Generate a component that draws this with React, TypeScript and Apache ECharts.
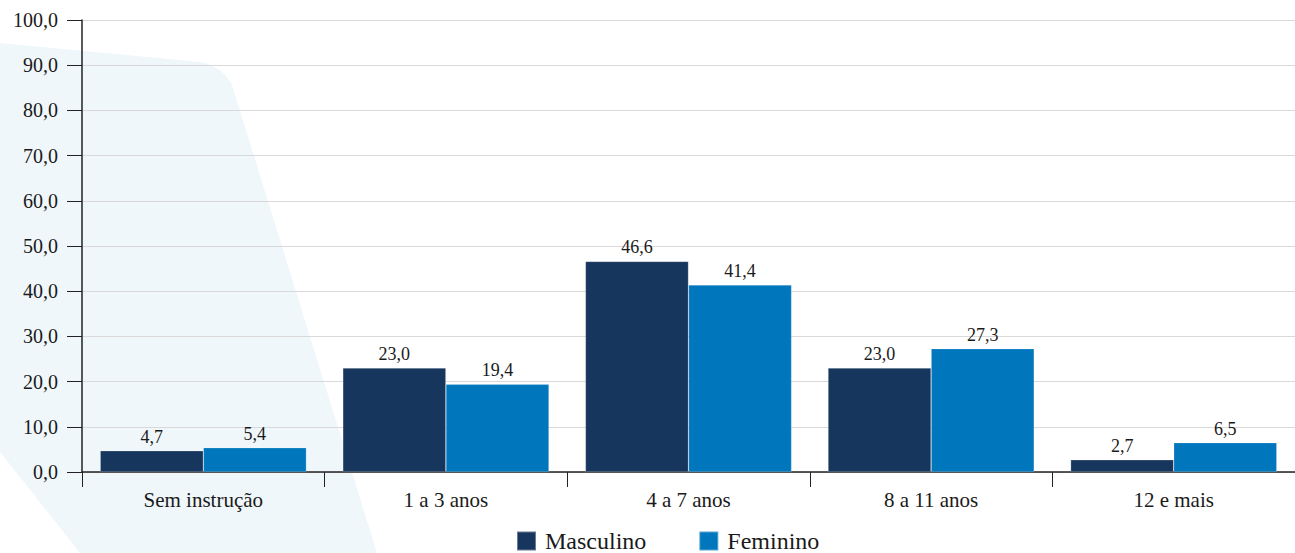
import React, { useEffect, useRef } from "react";
import * as echarts from "echarts";

const categories = ["Sem instrução", "1 a 3 anos", "4 a 7 anos", "8 a 11 anos", "12 e mais"];
const masculino = [4.7, 23.0, 46.6, 23.0, 2.7];
const feminino = [5.4, 19.4, 41.4, 27.3, 6.5];
const seriesNames = ["Masculino", "Feminino"];

const fmt = (v: number) => v.toFixed(1).replace(".", ",");

echarts.graphic.registerShape(
  "bgshape",
  echarts.graphic.extendPath(
    "M0,43 L200,62 Q222,66 232,85 L377,553 L80,553 L0,452 Z",
    {}
  )
);

const FONT = "Liberation Serif";

export default function App() {
  const ref = useRef<HTMLDivElement>(null);
  useEffect(() => {
    document.body.style.margin = "0";
    const chart = echarts.init(ref.current!, null, { renderer: "svg" });
    chart.setOption({
      animation: false,
      textStyle: { fontFamily: FONT, fontSize: 20 },
      graphic: [
        {
          type: "bgshape",
          x: 0,
          y: 0,
          z: -10,
          silent: true,
          style: { fill: "#f0f7fa" },
        },
      ],
      grid: { left: 82, right: 0, top: 20, bottom: 81, containLabel: false },
      legend: {
        top: 524,
        left: 511,
        itemWidth: 19,
        itemHeight: 19,
        itemGap: 52,
        icon: "rect",
        textStyle: {
          fontFamily: FONT,
          fontSize: 24,
          lineHeight: 24,
          color: "#1a1a1a",
          padding: [0, 0, 0, 4],
        },
        data: seriesNames,
      },
      xAxis: {
        type: "category",
        data: categories,
        axisLine: { lineStyle: { color: "#222", width: 1.5 } },
        axisTick: { show: true, length: 15, lineStyle: { color: "#222" } },
        axisLabel: { fontFamily: FONT, fontSize: 21, color: "#1a1a1a", margin: 17 },
      },
      yAxis: {
        type: "value",
        min: 0,
        max: 100,
        interval: 10,
        axisLine: { show: true, lineStyle: { color: "#222", width: 1.5 } },
        axisTick: { show: true, length: 15, lineStyle: { color: "#222" } },
        axisLabel: {
          fontFamily: FONT,
          fontSize: 20,
          color: "#1a1a1a",
          margin: 24,
          formatter: (v: number) => fmt(v),
        },
        splitLine: { lineStyle: { color: "#d9d9d9", width: 1 } },
      },
      series: [
        {
          name: seriesNames[0],
          type: "bar",
          data: masculino,
          barGap: "0%",
          barCategoryGap: "15%",
          itemStyle: { color: "#17365d", borderColor: "rgba(255,255,255,0.35)", borderWidth: 0.6 },
          label: {
            show: true,
            position: "top",
            distance: 5,
            fontFamily: FONT,
            fontSize: 18,
            color: "#1a1a1a",
            formatter: (p: any) => fmt(p.value),
          },
        },
        {
          name: seriesNames[1],
          type: "bar",
          data: feminino,
          itemStyle: { color: "#0077bd", borderColor: "rgba(255,255,255,0.35)", borderWidth: 0.6 },
          label: {
            show: true,
            position: "top",
            distance: 5,
            fontFamily: FONT,
            fontSize: 18,
            color: "#1a1a1a",
            formatter: (p: any) => fmt(p.value),
          },
        },
      ],
    });
    return () => chart.dispose();
  }, []);
  return (
    <div
      ref={ref}
      style={{ position: "absolute", left: 0, top: 0, width: 1295, height: 553 }}
    />
  );
}
